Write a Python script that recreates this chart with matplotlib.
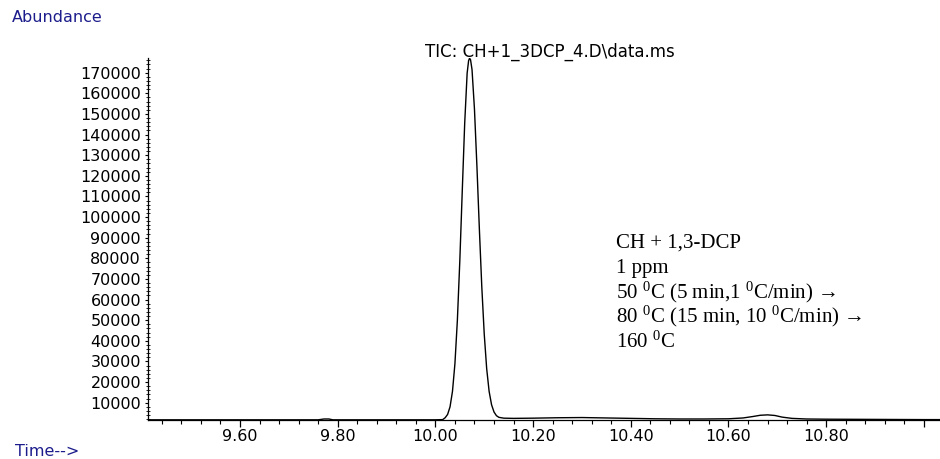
import matplotlib
matplotlib.use("Agg")
import matplotlib.pyplot as plt
from matplotlib.ticker import FixedLocator, MultipleLocator

# ---- data ----
time_min = [9.412, 9.50, 9.60, 9.70, 9.76, 9.772, 9.782, 9.79, 9.90, 10.00, 10.015,
            10.020, 10.025, 10.030, 10.035, 10.040, 10.045, 10.050, 10.055, 10.060,
            10.065, 10.068, 10.070, 10.072, 10.075, 10.080, 10.085, 10.090, 10.095,
            10.100, 10.105, 10.110, 10.115, 10.120, 10.125, 10.130, 10.140, 10.16,
            10.20, 10.25, 10.30, 10.35, 10.40, 10.45, 10.50, 10.55, 10.60, 10.63,
            10.65, 10.665, 10.68, 10.695, 10.71, 10.73, 10.76, 10.80, 10.90, 11.00,
            11.033]
abundance = [1700, 1700, 1700, 1700, 1700, 2100, 2100, 1700, 1700, 1700, 1800,
             2700, 4300, 8000, 15500, 28900, 49900, 78700, 112500, 145400,
             169700, 175800, 177000, 176200, 171500, 152300, 124800, 94400, 66200,
             43300, 26500, 15500, 9000, 5500, 3700, 2900, 2500, 2400,
             2500, 2700, 2800, 2600, 2400, 2200, 2100, 2100, 2200, 2600,
             3300, 3900, 4100, 3800, 3000, 2400, 2100, 2000, 1900, 1800,
             1800]

x_major = [9.60, 9.80, 10.00, 10.20, 10.40, 10.60, 10.80, 11.00]
x_labels = ["9.60", "9.80", "10.00", "10.20", "10.40", "10.60", "10.80", ""]
y_major = [10000, 20000, 30000, 40000, 50000, 60000, 70000, 80000, 90000,
           100000, 110000, 120000, 130000, 140000, 150000, 160000, 170000]
y_labels = [str(v) for v in y_major]

title_text = "TIC: CH+1_3DCP_4.D\\data.ms"
annotation_lines = ["CH + 1,3-DCP",
                    "1 ppm",
                    "50 $^{0}$C (5 min,1 $^{0}$C/min) \u2192",
                    "80 $^{0}$C (15 min, 10 $^{0}$C/min) \u2192",
                    "160 $^{0}$C"]

# ---- styling ----
plt.rcParams['font.family'] = ['DejaVu Sans']
plt.rcParams['mathtext.fontset'] = 'custom'
plt.rcParams['mathtext.rm'] = 'Liberation Serif'
plt.rcParams['mathtext.it'] = 'Liberation Serif:italic'
plt.rcParams['mathtext.bf'] = 'Liberation Serif:bold'

SANS = 11.5
W, H = 940, 459
fig = plt.figure(figsize=(W / 100, H / 100), dpi=100)
ax = fig.add_axes([148 / W, (H - 420) / H, (W - 148) / W, (420 - 58) / H])

ax.plot(time_min, abundance, color="black", lw=1.0)

ax.set_xlim(9.4117, 11.033)
ax.set_ylim(1610, 177100)

ax.spines['top'].set_visible(False)
ax.spines['right'].set_visible(False)
for s in ('left', 'bottom'):
    ax.spines[s].set_linewidth(0.9)
    ax.spines[s].set_color('black')

ax.xaxis.set_major_locator(FixedLocator(x_major))
ax.set_xticklabels(x_labels)
ax.xaxis.set_minor_locator(MultipleLocator(0.04))
ax.yaxis.set_major_locator(FixedLocator(y_major))
ax.set_yticklabels(y_labels)
ax.yaxis.set_minor_locator(MultipleLocator(2000))

ax.tick_params(axis='x', which='major', direction='out', length=5, width=0.9,
               labelsize=SANS, pad=1.5, colors='black')
ax.tick_params(axis='x', which='minor', direction='out', length=3, width=0.8)
ax.tick_params(axis='y', which='major', direction='out', length=2.5, width=0.8,
               labelsize=SANS, pad=2.5)
ax.tick_params(axis='y', which='minor', direction='inout', length=2.5, width=0.6)

# title
fig.text(550 / W, 1 - 52 / H, title_text, ha='center', va='center',
         fontsize=SANS + 0.5, color='black')

# axis captions (top-left and bottom-left, in blue)
fig.text(12 / W, 1 - 18 / H, "Abundance", ha='left', va='center',
         fontsize=SANS, color='#1c1c8c')
fig.text(15 / W, 1 - 452 / H, "Time-->", ha='left', va='center',
         fontsize=SANS, color='#1c1c8c')

# annotation block (serif)
for i, line in enumerate(annotation_lines):
    fig.text(616 / W, 1 - (248 + 24.9 * i) / H, line, ha='left', va='baseline',
             fontsize=15, family=['Liberation Serif', 'DejaVu Serif'], color='black')

fig.savefig("out.png", dpi=100)
